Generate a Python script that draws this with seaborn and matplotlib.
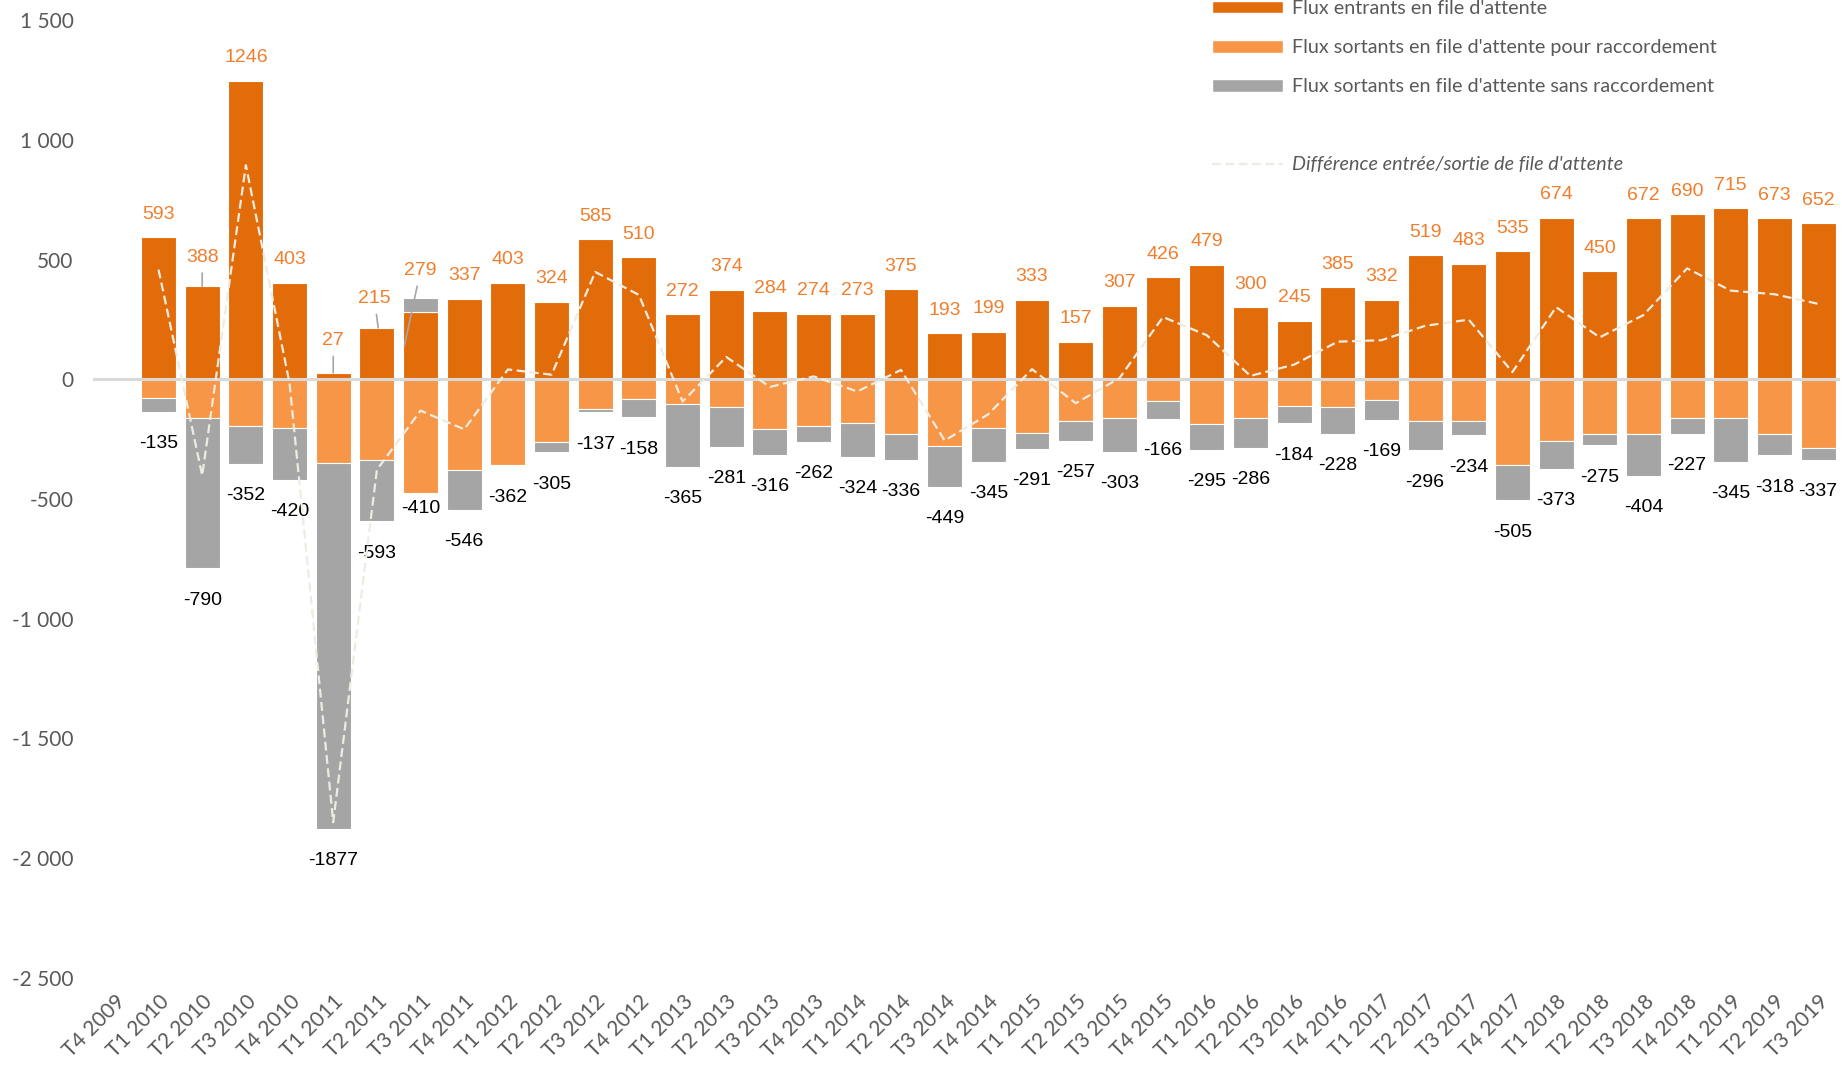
import numpy as np
import pandas as pd
import matplotlib
matplotlib.use("Agg")
import matplotlib.pyplot as plt
from matplotlib.patches import Patch
from matplotlib.lines import Line2D
from matplotlib.ticker import FixedLocator, FuncFormatter
import seaborn as sns

# quarters: T4 2009 is on the axis but has no data
trimestres = ["T4 2009"] + [f"T{q} {y}" for y in range(2010, 2020) for q in range(1, 5)][:39]

entrants = [None,
            593, 388, 1246, 403, 27, 215, 279, 337, 403, 324, 585,
            510, 272, 374, 284, 274, 273, 375, 193, 199, 333, 157, 307, 426, 479,
            300, 245, 385, 332, 519, 483, 535, 674, 450, 672, 690, 715, 673, 652]

sortants_racc = [None,
                 -80, -160, -196, -202, -350, -336, -475, -378, -357, -261, -126,
                 -82, -105, -117, -207, -196, -183, -229, -277, -202, -225, -175, -163, -90, -186,
                 -160, -111, -117, -88, -175, -175, -357, -256, -229, -229, -160, -163, -229, -288]

sortants_sans = [None,
                 -55, -630, -156, -218, -1527, -257, 62, -168, -5, -44, -11,
                 -76, -260, -164, -109, -66, -141, -107, -172, -143, -66, -82, -140, -76, -109,
                 -126, -73, -111, -81, -121, -59, -148, -117, -46, -175, -67, -182, -89, -49]

total_sortants = [None,
                  -135, -790, -352, -420, -1877, -593, -410, -546, -362, -305, -137,
                  -158, -365, -281, -316, -262, -324, -336, -449, -345, -291, -257, -303, -166, -295,
                  -286, -184, -228, -169, -296, -234, -505, -373, -275, -404, -227, -345, -318, -337]

difference = [None,
              458, -402, 894, -17, -1850, -378, -131, -209, 41, 19, 448,
              352, -93, 93, -32, 12, -51, 39, -256, -146, 42, -100, 4, 260, 184,
              14, 61, 157, 163, 223, 249, 30, 301, 175, 268, 463, 370, 355, 315]

C_IN = "#E36C0A"
C_RACC = "#F79646"
C_SANS = "#A5A5A5"
C_LINE = "#EEECE1"
C_LABEL = "#F07F2D"
C_TEXT = "#595959"

df = pd.DataFrame({
    "trimestre": trimestres,
    "entrants": pd.to_numeric(entrants),
    "racc": pd.to_numeric(sortants_racc),
    "sans": pd.to_numeric(sortants_sans),
})
df = df.fillna(0)
# grey segment stacks below the light-orange one, or above the inflow bar when positive
df["bas_gris"] = np.where(df["sans"] < 0, df["racc"], df["entrants"])

sns.set_style("white")
plt.rcParams["font.family"] = ["Lato", "DejaVu Sans"]
LABEL_FONT = ["Liberation Sans Narrow", "Liberation Sans", "DejaVu Sans"]

fig = plt.figure(figsize=(18.42, 10.66), dpi=100)
ax = fig.add_axes([0.0505, 0.0826, 0.9484, 0.8986])

bar_kw = dict(width=0.8, errorbar=None, saturation=1, edgecolor="white", linewidth=0.8, ax=ax)
sns.barplot(data=df, x="trimestre", y="entrants", color=C_IN, **bar_kw)
sns.barplot(data=df, x="trimestre", y="racc", color=C_RACC, **bar_kw)
sns.barplot(data=df, x="trimestre", y="sans", color=C_SANS, bottom=df["bas_gris"].values, **bar_kw)

ax.axhline(0, color="#D9D9D9", lw=2.2, zorder=5)

x_line = np.arange(1, len(trimestres))
sns.lineplot(x=x_line, y=difference[1:], color=C_LINE, lw=1.6, linestyle=(0, (4, 2)),
             estimator=None, sort=False, ax=ax, zorder=6)

# data labels
special = {2: (2, 510, 2, 388), 5: (5, 162, 5, 27), 6: (5.94, 337, 6.03, 215), 7: (7, 455, 6.63, 140)}
for i in range(1, len(trimestres)):
    v = entrants[i]
    if i in special:
        tx, ty, px, py = special[i]
        ax.annotate(str(v), xy=(px, py), xytext=(tx, ty), textcoords="data",
                    ha="center", va="center", fontsize=14, color=C_LABEL, family=LABEL_FONT,
                    arrowprops=dict(arrowstyle="-", color="#A6A6A6", lw=1.2, shrinkA=3, shrinkB=0))
    else:
        ax.annotate(str(v), xy=(i, v), xytext=(0, 16.5), textcoords="offset points",
                    ha="center", va="center", fontsize=14, color=C_LABEL, family=LABEL_FONT)
    low = min(sortants_racc[i], sortants_racc[i] + min(sortants_sans[i], 0))
    off = -11.5 if i == 7 else -23
    ax.annotate(str(total_sortants[i]), xy=(i, low), xytext=(0, off), textcoords="offset points",
                ha="center", va="center", fontsize=14, color="black", family=LABEL_FONT)

ax.set_ylim(-2500, 1500)
ax.set_xlim(-0.5, len(trimestres) - 0.5)
ax.yaxis.set_major_locator(FixedLocator(np.arange(-2500, 1501, 500)))
ax.yaxis.set_major_formatter(FuncFormatter(lambda v, p: f"{int(v):,}".replace(",", " ")))
ax.tick_params(axis="y", length=0, pad=14, labelsize=15, labelcolor=C_TEXT)
ax.tick_params(axis="x", length=0, pad=10, labelsize=15, labelcolor=C_TEXT)
ax.set_xticks(range(len(trimestres)))
ax.set_xticklabels(trimestres, rotation=45, ha="right", va="top", rotation_mode="anchor")
ax.set_xlabel("")
ax.set_ylabel("")
for s in ax.spines.values():
    s.set_visible(False)

handles = [
    Patch(facecolor=C_IN, label="Flux entrants en file d'attente"),
    Patch(facecolor=C_RACC, label="Flux sortants en file d'attente pour raccordement"),
    Patch(facecolor=C_SANS, label="Flux sortants en file d'attente sans raccordement"),
    Line2D([], [], color="none", label=" "),
    Line2D([], [], color=C_LINE, lw=1.6, linestyle=(0, (4, 2)), label="Différence entrée/sortie de file d'attente"),
]
leg = fig.legend(handles=handles, loc="upper left", bbox_to_anchor=(0.658, 1.0),
                 frameon=False, fontsize=14.2, labelspacing=1.12, handlelength=3.6,
                 handleheight=0.62, handletextpad=0.45, borderpad=0, borderaxespad=0)
for t in leg.get_texts():
    t.set_color(C_TEXT)
leg.get_texts()[-1].set_style("italic")

fig.savefig("out.png", dpi=100)
